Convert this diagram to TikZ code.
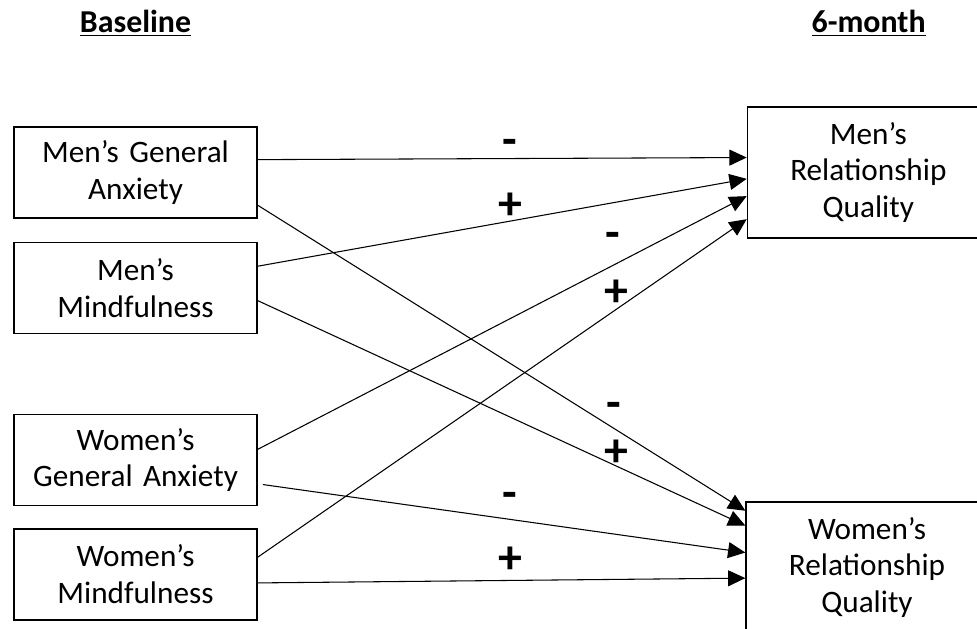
\documentclass[tikz,border=0pt]{standalone}
\usepackage{fontspec}
\setmainfont{Carlito}
\usetikzlibrary{arrows.meta,positioning}
\tikzset{
block/.style={
  rectangle,
  draw,
  line width=1pt,
  text width=6.429cm,
  inner xsep=0pt,
  text centered,
  minimum height=2.407cm,
  font=\fontsize{23.5}{27.75}\selectfont},
outcome/.style={
  block,
  text width=6.402cm,
  minimum height=3.466cm},
line/.style={draw, line width=0.8pt, -{Triangle[length=13pt,width=12pt]}},
sign/.style={font=\fontsize{36}{36}\selectfont\bfseries},
heading/.style={font=\fontsize{24}{28}\selectfont\bfseries, anchor=base}
}
\begin{document}
\begin{tikzpicture}
    \useasboundingbox (0,0) rectangle (25.847,-16.640);
    \clip (0,0) rectangle (25.847,-16.640);
    \node [heading] (base) at (3.585,-0.873) {\underline{Baseline}};
    \node [heading] (month) at (22.98,-0.873) {\underline{6-month}};
    \node [block] (mga) at (3.585,-4.563) {Men’s General\\Anxiety};
    \node [block, below=0.608cm of mga] (mmf) {Men’s\\Mindfulness};
    \node [block, below=2.116cm of mmf] (wga) {Women’s\\General Anxiety};
    \node [block, below=0.582cm of wga] (wmf) {Women’s\\Mindfulness};
    \node [outcome, right=12.937cm of mga] (mrq) {Men’s\\Relationship\\Quality};
    \node [outcome] (wrq) at (22.937,-15.013) {Women’s\\Relationship\\Quality};
    \path [line] (mga.6) -- (mrq.173.6);
    \path [line] (mga.345.5) -- (wrq.155.75);
    \path [line] (mmf.10) -- (mrq.183.1);
    \path [line] (mmf.354.1) -- (wrq.161.5);
    \path [line] (wga.5.4) -- (mrq.191.9);
    \path [line, shorten <=4pt] (wga.349.1) -- (wrq.173.2);
    \path [line] (wmf.8.66) -- (mrq.201.4);
    \path [line] (wmf.356) -- (wrq.185);
    \node [sign] (s1) at (13.49,-3.91) {-};
    \node [sign] (s2) at (13.49,-5.45) {+};
    \node [sign] (s3) at (16.22,-6.35) {-};
    \node [sign] (s4) at (16.30,-7.75) {+};
    \node [sign] (s5) at (16.24,-10.85) {-};
    \node [sign] (s6) at (16.30,-11.99) {+};
    \node [sign] (s7) at (13.49,-13.23) {-};
    \node [sign] (s8) at (13.49,-14.82) {+};
\end{tikzpicture}
\end{document}
